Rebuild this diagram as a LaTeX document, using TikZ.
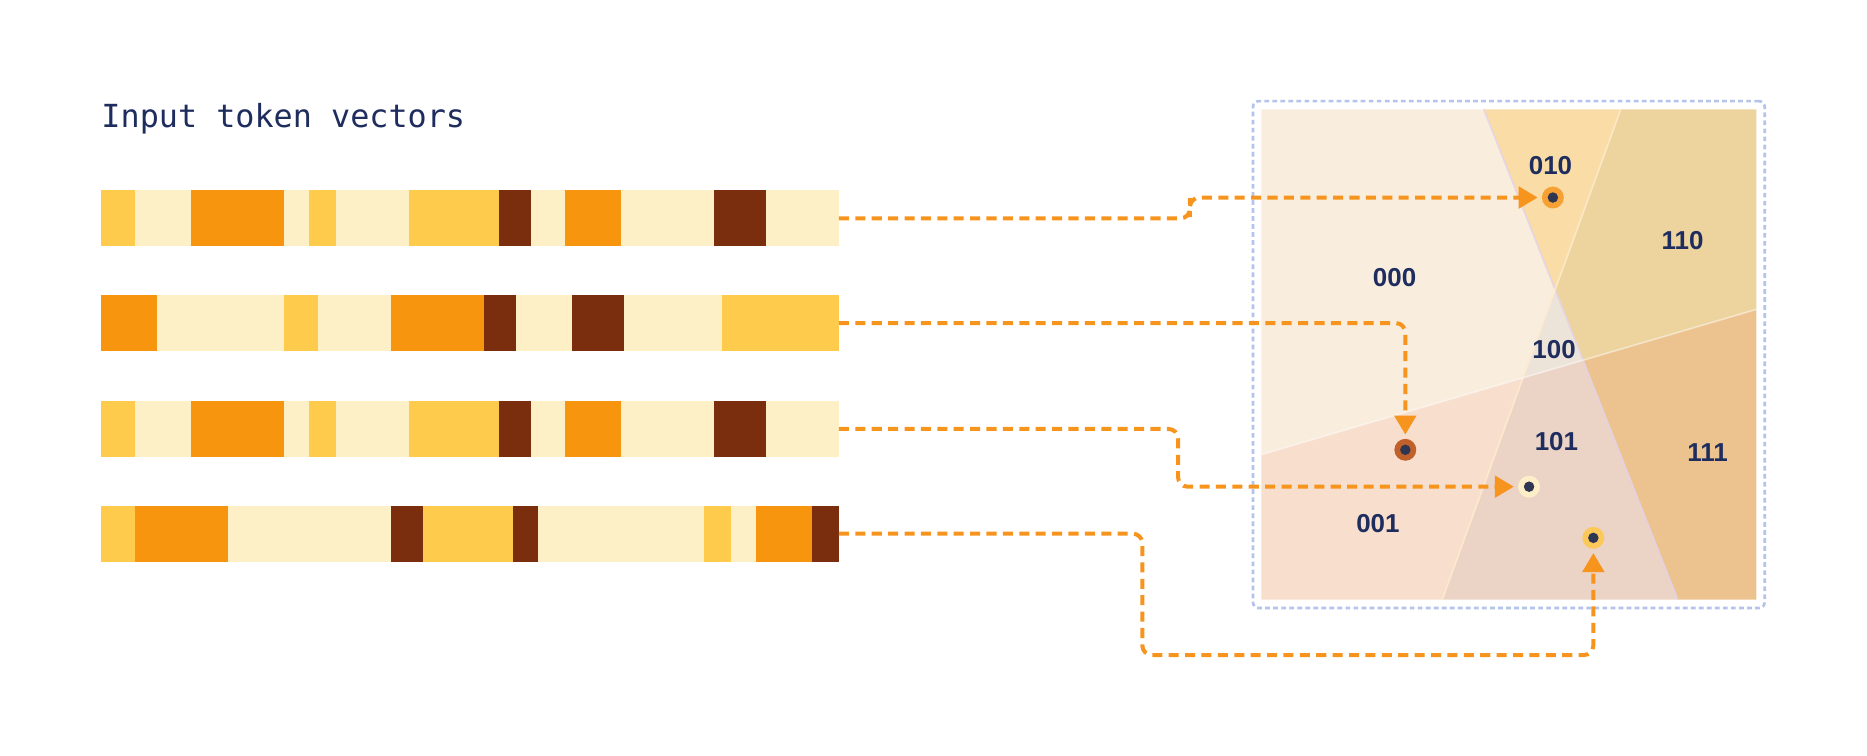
\documentclass[tikz,border=0pt]{standalone}
\usepackage{fontspec}
\setmainfont{Liberation Sans}
\newfontfamily\monofnt{DejaVu Sans Mono}
\usetikzlibrary{arrows.meta,fit}
\definecolor{yel}{HTML}{FECB4D}
\definecolor{crm}{HTML}{FDF0C6}
\definecolor{org}{HTML}{F8950F}
\definecolor{brn}{HTML}{7B2E0E}
\definecolor{navy}{HTML}{1E2D5E}
\definecolor{lineorg}{HTML}{F7941D}
\definecolor{boxblue}{HTML}{B3C3EC}
\definecolor{dotc}{HTML}{2F3652}
\definecolor{rzzz}{HTML}{F9EDDE}
\definecolor{rzoz}{HTML}{F9DCA6}
\definecolor{rooz}{HTML}{EDD49E}
\definecolor{rozz}{HTML}{EDE4D9}
\definecolor{rooo}{HTML}{ECC38E}
\definecolor{rozo}{HTML}{EBD3C6}
\definecolor{rzzo}{HTML}{F8DECD}
\definecolor{ptA}{HTML}{F7A134}
\definecolor{ptB}{HTML}{C0602B}
\definecolor{ptC}{HTML}{FCEFC8}
\definecolor{ptD}{HTML}{FCC85A}
\begin{document}
\begin{tikzpicture}[x=0.025cm,y=-0.025cm,
  conn/.style={draw=lineorg, line width=2.4pt, dash pattern=on 6pt off 3.8pt,
    rounded corners=0.2cm, -{Triangle[length=0.4cm,width=0.45cm]}, shorten >=0.09cm},
  bar/.style={inner sep=0pt, outer sep=0pt},
  pt/.style={circle, minimum size=0.46cm, inner sep=0pt, outer sep=0pt,
    path picture={\fill[dotc] (path picture bounding box.center) circle (0.11cm);}},
  lbl/.style={font=\fontsize{15.5}{18}\selectfont\bfseries, text=navy, inner sep=0pt},
  panelbox/.style={draw=boxblue, line width=1.6pt, dash pattern=on 2.8pt off 2pt,
    rounded corners=0.12cm, inner sep=0pt},
  faint/.style={line width=1pt}]
\useasboundingbox (0,0) rectangle (1569,634.5);

% title
\node[anchor=base west, text=navy, font=\monofnt\fontsize{19}{23}\selectfont, inner sep=0pt]
  (title) at (85,107) {Input token vectors};

% bars
\def\rowA{85/113.6/yel,113.6/160.5/crm,160.5/238.8/org,238.8/260/crm,260/282.6/yel,282.6/343.9/crm,343.9/419.4/yel,419.4/446.1/brn,446.1/474.7/crm,474.7/521.7/org,521.7/600/crm,600/643.7/brn,643.7/705/crm}
\def\rowB{85/132/org,132/238.8/crm,238.8/267.4/yel,267.4/328.6/crm,328.6/406.9/org,406.9/433.6/brn,433.6/480.6/crm,480.6/524.4/brn,524.4/606.8/crm,606.8/705/yel}
\def\rowD{85/113.6/yel,113.6/191.9/org,191.9/328.6/crm,328.6/355.4/brn,355.4/430.9/yel,430.9/452.1/brn,452.1/591.7/crm,591.7/614.2/yel,614.2/635.4/crm,635.4/682.4/org,682.4/705/brn}
\foreach \a/\b/\c in \rowA {\fill[\c] (\a,160) rectangle (\b,207);}
\foreach \a/\b/\c in \rowB {\fill[\c] (\a,248) rectangle (\b,295);}
\foreach \a/\b/\c in \rowA {\fill[\c] (\a,337) rectangle (\b,384);}
\foreach \a/\b/\c in \rowD {\fill[\c] (\a,425) rectangle (\b,472);}
\node[bar, fit={(85,160)(705,207)}] (bar1) {};
\node[bar, fit={(85,248)(705,295)}] (bar2) {};
\node[bar, fit={(85,337)(705,384)}] (bar3) {};
\node[bar, fit={(85,425)(705,472)}] (bar4) {};

% regions
\fill[rzzz] (1060,92) -- (1247,92) -- (1306.9,243.4) -- (1279.9,317.5) -- (1060,382) -- cycle;
\fill[rzoz] (1247,92) -- (1362,92) -- (1306.9,243.4) -- cycle;
\fill[rooz] (1362,92) -- (1476,92) -- (1476,260) -- (1330.4,302.7) -- (1306.9,243.4) -- cycle;
\fill[rozz] (1306.9,243.4) -- (1330.4,302.7) -- (1279.9,317.5) -- cycle;
\fill[rooo] (1330.4,302.7) -- (1476,260) -- (1476,504) -- (1410,504) -- cycle;
\fill[rozo] (1279.9,317.5) -- (1330.4,302.7) -- (1410,504) -- (1212,504) -- cycle;
\fill[rzzo] (1060,382) -- (1279.9,317.5) -- (1212,504) -- (1060,504) -- cycle;
\draw[faint, draw={rgb,255:red,228;green,210;blue,232}, opacity=0.8] (1247,92) -- (1410,504);
\draw[faint, draw={rgb,255:red,255;green,236;blue,205}, opacity=0.8] (1362,92) -- (1212,504);
\draw[faint, draw=white, opacity=0.45] (1060,382) -- (1476,260);

\node[panelbox, fit={(1053,85)(1483,511)}] (panel) {};

% region labels
\node[lbl] (l010) at (1303,139) {010};
\node[lbl] (l000) at (1172,233) {000};
\node[lbl] (l110) at (1414,202) {110};
\node[lbl] (l100) at (1306,294) {100};
\node[lbl] (l101) at (1308,371) {101};
\node[lbl] (l111) at (1435,380) {111};
\node[lbl] (l001) at (1158,440) {001};

% points
\node[pt, fill=ptA] (p1) at (1305,166) {};
\node[pt, fill=ptB] (p2) at (1181,378) {};
\node[pt, fill=ptC] (p3) at (1285,409) {};
\node[pt, fill=ptD] (p4) at (1339,452) {};

% connectors
\draw[conn] (bar1.east) -| ++(295,-9) |- (p1);
\draw[conn] (bar2.east) -| (p2);
\draw[conn] (bar3.east) -| ++(285,25) |- (p3);
\draw[conn] (bar4.east) -| ++(255,102) -| (p4);
\end{tikzpicture}
\end{document}
